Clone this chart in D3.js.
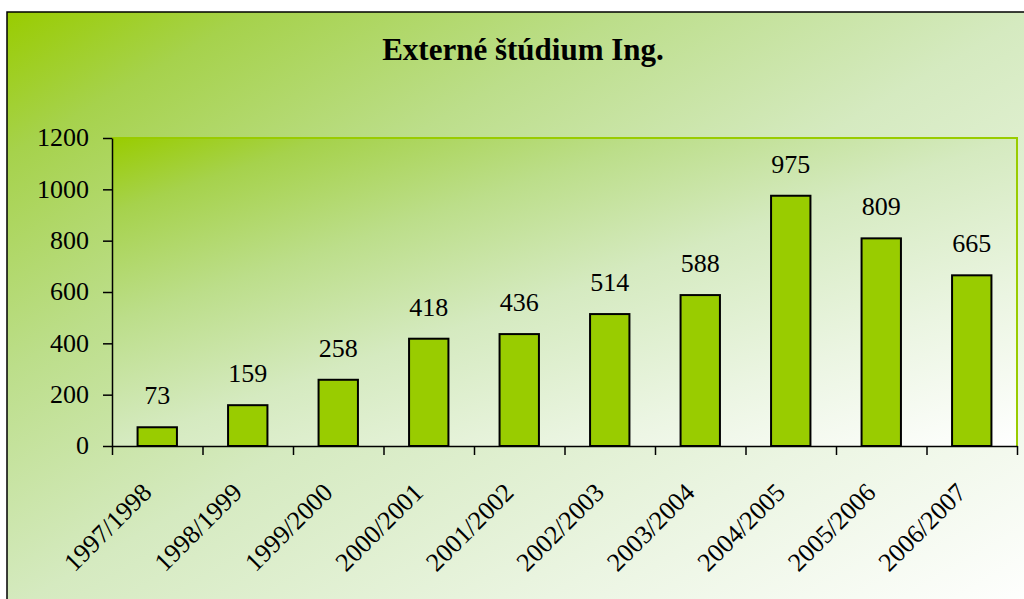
<!DOCTYPE html>
<html><head><meta charset="utf-8">
<script src="https://cdn.jsdelivr.net/npm/d3@7"></script>
<style>
body{margin:0;background:#fff;overflow:hidden}svg{display:block}
</style>
</head><body><svg id="c" width="1024" height="599"></svg>
<script>
const title = "Externé štúdium Ing.";
const categories = ["1997/1998","1998/1999","1999/2000","2000/2001","2001/2002","2002/2003","2003/2004","2004/2005","2005/2006","2006/2007"];
const values = [73,159,258,418,436,514,588,975,809,665];
const yTicks = [0,200,400,600,800,1000,1200];

const FONT = '"Liberation Serif"';
const BASE = 20, K = 1.3;   // render at 20px, scaled to 26px
const svg = d3.select("#c");
const plot = {left:112, right:1017, top:138, bottom:446};

const defs = svg.append("defs");
const grad = defs.append("linearGradient").attr("id","bg")
  .attr("x1",0).attr("y1",0).attr("x2",1).attr("y2",1);
[[0,"#99cc00"],[0.12,"#a6d24c"],[0.3,"#bcde8a"],[0.5,"#d5eac0"],[0.75,"#ebf5e2"],[1,"#ffffff"]]
  .forEach(([o,c])=>grad.append("stop").attr("offset",o).attr("stop-color",c));

svg.append("rect").attr("x",7).attr("y",12).attr("width",1030).attr("height",600)
  .attr("fill","url(#bg)").attr("stroke","#000").attr("stroke-width",1.5);

svg.append("rect").attr("x",plot.left).attr("y",plot.top)
  .attr("width",plot.right-plot.left).attr("height",plot.bottom-plot.top)
  .attr("fill","url(#bg)");
svg.append("path")
  .attr("d",`M${plot.left},${plot.top}H${plot.right}V${plot.bottom}`)
  .attr("fill","none").attr("stroke","#99cc00").attr("stroke-width",2);

svg.append("text").attr("x",523).attr("y",60).attr("text-anchor","middle")
  .style("font-family",FONT).style("font-weight","bold").style("font-size","31px")
  .text(title);

const x = d3.scaleBand().domain(categories).range([plot.left,plot.right])
  .paddingInner(0.565).paddingOuter(0.2825);
const xb = d3.scaleLinear().domain([0,categories.length]).range([plot.left,plot.right]);
const y = d3.scaleLinear().domain([0,1200]).range([plot.bottom,plot.top]);

svg.append("g").selectAll("rect").data(values).join("rect")
  .attr("x",(d,i)=>x(categories[i]))
  .attr("width",x.bandwidth())
  .attr("y",d=>y(d))
  .attr("height",d=>y(0)-y(d))
  .attr("fill","#99cc00").attr("stroke","#000").attr("stroke-width",2);

svg.append("g").selectAll("text").data(values).join("text")
  .attr("transform",(d,i)=>`translate(${x(categories[i])+x.bandwidth()/2},${y(d)-23}) scale(${K})`)
  .attr("text-anchor","middle")
  .style("font-family",FONT).style("font-size",BASE+"px")
  .text(d=>d);

const ya = svg.append("g").attr("transform",`translate(${plot.left},0)`)
  .call(d3.axisLeft(y).tickValues(yTicks).tickFormat(d3.format("d")).tickSize(9).tickSizeOuter(0).tickPadding(14));
ya.selectAll("text").style("font-family",FONT).style("font-size",BASE+"px").attr("fill","#000")
  .attr("x",-23/K).attr("dy","0.3em").attr("transform",`scale(${K})`);
ya.selectAll("line,path").attr("stroke","#000").attr("stroke-width",1.5);

const xa = svg.append("g").attr("transform",`translate(0,${plot.bottom})`)
  .call(d3.axisBottom(xb).ticks(categories.length).tickSize(9).tickSizeOuter(0).tickFormat(""));
xa.selectAll("line,path").attr("stroke","#000").attr("stroke-width",1.5);

svg.append("g").selectAll("text").data(categories).join("text")
  .attr("transform",d=>`translate(${x(d)+x.bandwidth()/2-4},494) rotate(-45) scale(${K})`)
  .attr("text-anchor","end")
  .style("font-family",FONT).style("font-size",BASE+"px")
  .text(d=>d);
</script>
</body></html>
